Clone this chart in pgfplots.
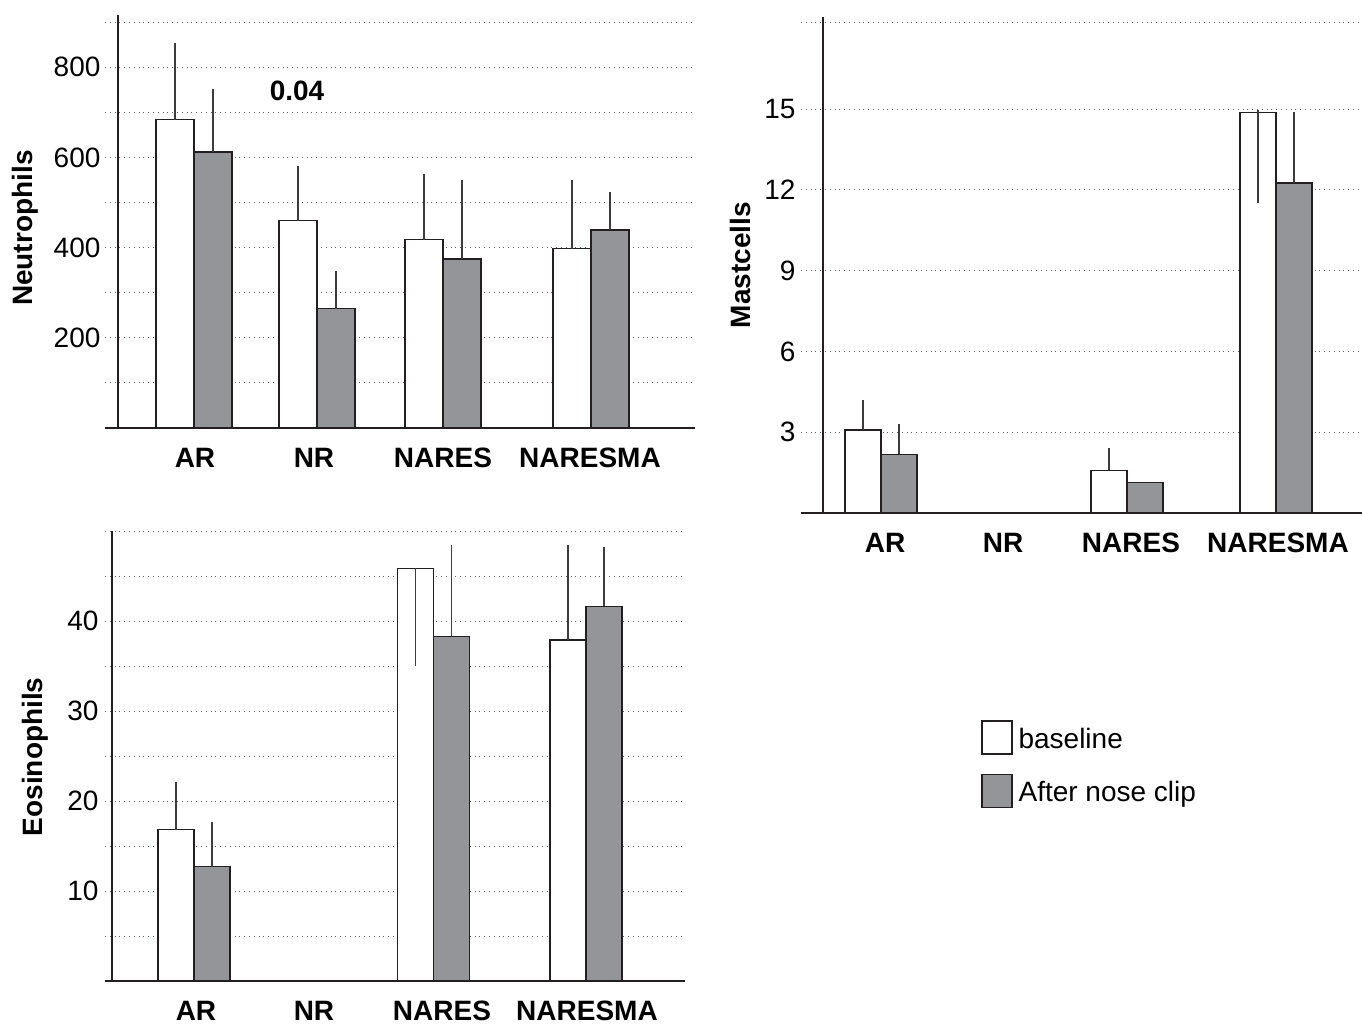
\documentclass[border=0pt]{standalone}
\usepackage{fontspec}
\setmainfont{Liberation Sans}
\usepackage{pgfplots}
\pgfplotsset{compat=1.18}
\usepackage{pgfplotstable}

\definecolor{barfill}{RGB}{147,149,152}
\definecolor{baredge}{RGB}{35,31,32}
\definecolor{errcol}{RGB}{60,60,60}
\definecolor{gridcol}{RGB}{95,95,95}

% Neutrophils
\pgfplotstableread{
x y ep em
57 684 170 0
180 460 121 0
306 418 146 0
454 398 153 0
}\neuBase
\pgfplotstableread{
x y ep em
95 612 139 0
218 265 83 0
344 375 175 0
492 439 84 0
}\neuAfter
% Mastcells
\pgfplotstableread{
x y ep em
40 3.08 1.13 0
286 1.59 0.83 0
435 14.87 0.08 3.34
}\masBase
\pgfplotstableread{
x y ep em
76 2.18 1.14 0
322 1.13 0 0
471 12.26 2.64 0
}\masAfter
% Eosinophils
\pgfplotstableread{
x y ep em
64 16.8 5.3 0
303.5 45.85 0 10.85
456 37.9 10.5 0
}\eosBase
\pgfplotstableread{
x y ep em
100 12.7 5.0 0
339.5 38.3 10.1 0
492 41.65 6.55 0
}\eosAfter

\pgfplotsset{
  panel/.style={
    scale only axis,
    anchor=south west,
    axis x line=bottom,
    axis y line=middle,
    axis line style={-, draw=baredge, line width=0.7pt},
    tick style={draw=none},
    ymajorgrids, yminorgrids,
    major grid style={gridcol, dotted, line width=0.5pt},
    minor grid style={gridcol, dotted, line width=0.5pt},
    xticklabels={AR,NR,NARES,NARESMA},
    xticklabel style={font=\bfseries, anchor=base, yshift=-17.5pt},
    yticklabel style={anchor=east},
    /pgf/number format/assume math mode=true,
    clip=false,
  },
  errstyle/.style={
    /pgfplots/error bars/y dir=both,
    /pgfplots/error bars/y explicit,
    /pgfplots/error bars/error mark=none,
    /pgfplots/error bars/error bar style={errcol, line width=0.6pt}},
  basebar/.style={ybar, bar width=#1, bar shift=0pt, fill=white, draw=baredge, line width=0.65pt, errstyle},
  afterbar/.style={ybar, bar width=#1, bar shift=0pt, fill=barfill, draw=baredge, line width=0.65pt, errstyle},
}

\begin{document}
\fontsize{14}{16.8}\selectfont
\begin{tikzpicture}
\path[use as bounding box] (0,0) rectangle (681pt,512.5pt);

% Neutrophils
\begin{axis}[panel,
  at={(52.5pt,298.5pt)}, width=295pt, height=206.5pt,
  xmin=-13, xmax=577, ymin=0, ymax=916,
  ytick={200,400,600,800}, minor ytick={100,300,500,700,900},
  xtick={77,196,325,472},
  yticklabel style={xshift=-1.8pt},
  every axis y label/.style={at={(axis description cs:-0.1356,0.484)}, anchor=center, rotate=90, font=\bfseries},
  ylabel={Neutrophils},
]
\addplot[basebar=38] table[x=x,y=y,y error plus=ep,y error minus=em]{\neuBase};
\addplot[afterbar=38] table[x=x,y=y,y error plus=ep,y error minus=em]{\neuAfter};
\node[font=\bfseries] at (axis cs:179,747) {0.04};
\end{axis}

% Mastcells
\begin{axis}[panel,
  at={(400.5pt,256pt)}, width=280.5pt, height=248pt,
  xmin=-22, xmax=539, ymin=0, ymax=18.42,
  ytick={3,6,9,12,15}, minor ytick={18.2},
  xtick={62,180,308,455},
  yticklabel style={xshift=-6.8pt},
  every axis y label/.style={at={(axis description cs:-0.1087,0.5)}, anchor=center, rotate=90, font=\bfseries},
  ylabel={Mastcells},
]
\addplot[basebar=36] table[x=x,y=y,y error plus=ep,y error minus=em]{\masBase};
\addplot[afterbar=36] table[x=x,y=y,y error plus=ep,y error minus=em]{\masAfter};
\end{axis}

% Eosinophils
\begin{axis}[panel,
  at={(52.5pt,22pt)}, width=290pt, height=225pt,
  xmin=-7, xmax=573, ymin=0, ymax=50,
  ytick={10,20,30,40}, minor ytick={5,15,25,35,45,50},
  xtick={84,202,330,475},
  yticklabel style={xshift=0.2pt},
  every axis y label/.style={at={(axis description cs:-0.1207,0.498)}, anchor=center, rotate=90, font=\bfseries},
  ylabel={Eosinophils},
  legend style={at={(axis description cs:1.5103,0.58)}, anchor=north west, draw=none, fill=none,
    row sep=8.5pt, inner sep=0pt, font=\fontsize{14}{16.8}\selectfont,
    nodes={inner xsep=3pt}},
  legend cell align=left,
]
\addplot[basebar=36, legend image code/.code={\draw[fill=white, draw=baredge, line width=0.6pt] (0pt,-6.75pt) rectangle (15pt,9.75pt);}] table[x=x,y=y,y error plus=ep,y error minus=em]{\eosBase};
\addlegendentry{baseline}
\addplot[afterbar=36, legend image code/.code={\draw[fill=barfill, draw=baredge, line width=0.6pt] (0pt,-6.75pt) rectangle (15pt,9.75pt);}] table[x=x,y=y,y error plus=ep,y error minus=em]{\eosAfter};
\addlegendentry{After nose clip}
\end{axis}
\end{tikzpicture}
\end{document}
